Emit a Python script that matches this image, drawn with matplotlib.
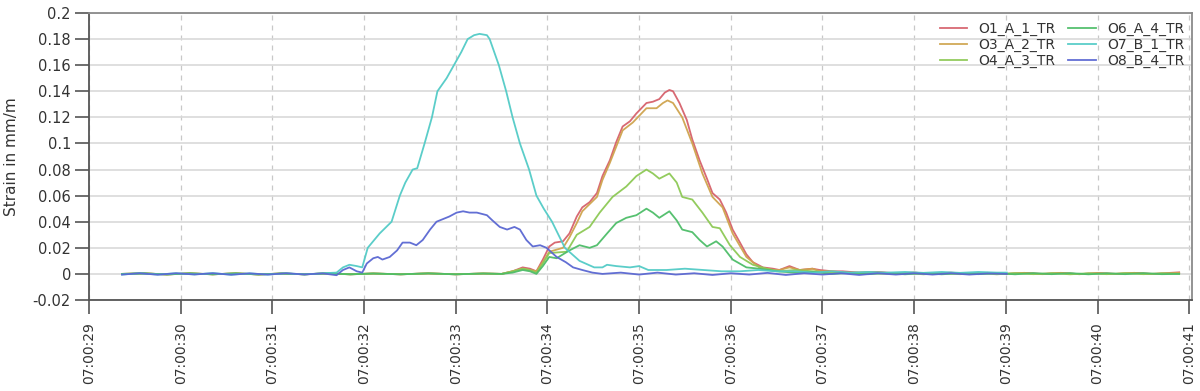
import matplotlib
matplotlib.use("Agg")
import matplotlib.pyplot as plt

# ---------------- data (time in seconds after 07:00:00, strain in mm/m) ----------------
o1_t = [29.36, 29.6, 29.85, 30.1, 30.35, 30.6, 30.85, 31.1, 31.35, 31.6, 31.85, 32.1, 32.4, 32.7, 33.0, 33.3,
        33.5, 33.62, 33.73, 33.81, 33.88, 33.95, 34.02, 34.08, 34.17, 34.24, 34.32, 34.38, 34.46, 34.54, 34.60,
        34.68, 34.75, 34.82, 34.90, 34.97, 35.08, 35.15, 35.22, 35.28, 35.33, 35.37, 35.44, 35.52, 35.58, 35.66,
        35.74, 35.80, 35.88, 35.95, 36.02, 36.10, 36.17, 36.24, 36.35, 36.46, 36.53, 36.64, 36.75, 36.89, 36.97,
        37.11, 37.22, 37.4, 37.6, 37.8, 38.0, 38.2, 38.4, 38.6, 38.8, 39.0, 39.2, 39.4, 39.6, 39.8, 40.0, 40.2,
        40.4, 40.6, 40.89]
o1_v = [0.0, 0.0004, -0.0004, 0.0004, -0.0003, 0.0004, -0.0004, 0.0003, -0.0003, 0.0004, -0.0003, 0.0003,
        -0.0003, 0.0004, -0.0003, 0.0003, 0.0, 0.002, 0.005, 0.004, 0.002, 0.011, 0.021, 0.024, 0.025, 0.031,
        0.044, 0.051, 0.055, 0.062, 0.075, 0.087, 0.101, 0.113, 0.117, 0.123, 0.131, 0.132, 0.134, 0.139,
        0.141, 0.140, 0.131, 0.118, 0.103, 0.087, 0.073, 0.062, 0.057, 0.047, 0.034, 0.024, 0.015, 0.009,
        0.005, 0.004, 0.003, 0.006, 0.003, 0.004, 0.003, 0.002, 0.002, 0.001, 0.0015, 0.0005, 0.001, 0.0,
        0.001, 0.0, 0.0008, 0.0, 0.0008, 0.0, 0.0008, -0.0002, 0.0007, 0.0, 0.0008, 0.0, 0.0012]

o3_t = [29.36, 29.6, 29.85, 30.1, 30.35, 30.6, 30.85, 31.1, 31.35, 31.6, 31.85, 32.1, 32.4, 32.7, 33.0, 33.3,
        33.5, 33.62, 33.73, 33.81, 33.88, 33.95, 34.02, 34.17, 34.24, 34.32, 34.38, 34.54, 34.60, 34.68, 34.82,
        34.93, 35.08, 35.19, 35.26, 35.31, 35.37, 35.47, 35.58, 35.69, 35.80, 35.91, 36.02, 36.17, 36.31, 36.46,
        36.53, 36.64, 36.75, 36.89, 36.97, 37.11, 37.22, 37.4, 37.6, 37.8, 38.0, 38.2, 38.4, 38.6, 38.8, 39.0,
        39.2, 39.4, 39.6, 39.8, 40.0, 40.2, 40.4, 40.6, 40.89]
o3_v = [0.0, 0.0004, -0.0004, 0.0004, -0.0003, 0.0004, -0.0004, 0.0003, -0.0003, 0.0004, -0.0003, 0.0003,
        -0.0003, 0.0004, -0.0003, 0.0003, 0.0, 0.002, 0.004, 0.003, 0.002, 0.009, 0.017, 0.020, 0.028, 0.039,
        0.048, 0.059, 0.072, 0.085, 0.110, 0.116, 0.127, 0.127, 0.131, 0.133, 0.131, 0.120, 0.100, 0.077,
        0.059, 0.051, 0.031, 0.013, 0.005, 0.003, 0.003, 0.005, 0.003, 0.004, 0.002, 0.002, 0.001, 0.001,
        0.0012, 0.0003, 0.001, 0.0, 0.0008, -0.0002, 0.0008, 0.0, 0.0008, -0.0002, 0.0008, -0.0002, 0.0006,
        0.0, 0.0008, -0.0001, 0.0008]

o4_t = [29.36, 29.6, 29.85, 30.1, 30.35, 30.6, 30.85, 31.1, 31.35, 31.6, 31.85, 32.1, 32.4, 32.7, 33.0, 33.3,
        33.5, 33.62, 33.73, 33.81, 33.88, 33.95, 34.02, 34.21, 34.32, 34.46, 34.57, 34.71, 34.86, 34.97, 35.08,
        35.15, 35.22, 35.33, 35.41, 35.47, 35.58, 35.69, 35.80, 35.88, 35.99, 36.10, 36.24, 36.39, 36.53, 36.7,
        36.9, 37.1, 37.3, 37.5, 37.7, 37.9, 38.1, 38.3, 38.5, 38.7, 38.9, 39.1, 39.3, 39.5, 39.7, 39.9, 40.1,
        40.3, 40.5, 40.7, 40.89]
o4_v = [0.0, 0.0004, -0.0004, 0.0004, -0.0003, 0.0004, -0.0004, 0.0003, -0.0003, 0.0004, -0.0003, 0.0003,
        -0.0003, 0.0004, -0.0003, 0.0003, 0.0, 0.002, 0.004, 0.003, 0.001, 0.008, 0.016, 0.017, 0.030, 0.036,
        0.047, 0.059, 0.067, 0.075, 0.080, 0.077, 0.073, 0.077, 0.070, 0.059, 0.057, 0.047, 0.036, 0.035,
        0.022, 0.013, 0.007, 0.004, 0.002, 0.003, 0.002, 0.001, 0.0005, 0.001, 0.0, 0.0008, -0.0003, 0.0006,
        -0.0002, 0.0007, -0.0003, 0.0006, -0.0002, 0.0006, -0.0003, 0.0005, -0.0002, 0.0006, -0.0002, 0.0005,
        0.0]

o6_t = [29.36, 29.6, 29.85, 30.1, 30.35, 30.6, 30.85, 31.1, 31.35, 31.6, 31.85, 32.1, 32.4, 32.7, 33.0, 33.3,
        33.5, 33.62, 33.73, 33.81, 33.88, 33.95, 34.02, 34.10, 34.24, 34.35, 34.46, 34.54, 34.65, 34.75, 34.86,
        34.97, 35.08, 35.15, 35.22, 35.33, 35.41, 35.47, 35.58, 35.66, 35.74, 35.84, 35.91, 36.02, 36.17, 36.31,
        36.5, 36.7, 36.9, 37.1, 37.3, 37.5, 37.7, 37.9, 38.1, 38.3, 38.5, 38.7, 38.9, 39.1, 39.3, 39.5, 39.7,
        39.9, 40.1, 40.3, 40.5, 40.7, 40.89]
o6_v = [0.0, 0.0004, -0.0004, 0.0004, -0.0003, 0.0004, -0.0004, 0.0003, -0.0003, 0.0004, -0.0003, 0.0003,
        -0.0003, 0.0004, -0.0003, 0.0003, 0.0, 0.001, 0.003, 0.002, 0.0, 0.006, 0.013, 0.012, 0.018, 0.022,
        0.020, 0.022, 0.031, 0.039, 0.043, 0.045, 0.050, 0.047, 0.043, 0.048, 0.041, 0.034, 0.032, 0.026,
        0.021, 0.025, 0.021, 0.011, 0.005, 0.004, 0.002, 0.001, 0.0015, 0.0, 0.0008, -0.0002, 0.0007, -0.0003,
        0.0006, -0.0003, 0.0006, -0.0002, 0.0006, -0.0003, 0.0006, -0.0002, 0.0006, -0.0003, 0.0005, -0.0002,
        0.0006, -0.0002, 0.0]

o7_t = [29.36, 29.55, 29.75, 29.95, 30.15, 30.35, 30.55, 30.75, 30.95, 31.15, 31.35, 31.55, 31.70, 31.77,
        31.84, 31.92, 31.98, 32.04, 32.17, 32.30, 32.39, 32.45, 32.53, 32.58, 32.66, 32.74, 32.80, 32.90,
        32.98, 33.06, 33.13, 33.20, 33.26, 33.34, 33.37, 33.47, 33.55, 33.62, 33.70, 33.80, 33.88, 33.96,
        34.05, 34.19, 34.35, 34.51, 34.60, 34.65, 34.75, 34.90, 35.00, 35.10, 35.30, 35.50, 35.70, 35.90,
        36.1, 36.3, 36.5, 36.7, 36.9, 37.1, 37.3, 37.5, 37.7, 37.9, 38.1, 38.3, 38.5, 38.7, 38.9, 39.01]
o7_v = [-0.0005, 0.0005, -0.0005, 0.0005, -0.0004, 0.0006, -0.0006, 0.0004, -0.0005, 0.0005, -0.0004,
        0.0005, 0.001, 0.005, 0.007, 0.006, 0.005, 0.020, 0.031, 0.040, 0.060, 0.070, 0.080, 0.081, 0.100,
        0.120, 0.140, 0.150, 0.160, 0.170, 0.180, 0.183, 0.184, 0.183, 0.180, 0.160, 0.140, 0.120, 0.100,
        0.080, 0.060, 0.050, 0.040, 0.020, 0.010, 0.005, 0.005, 0.007, 0.006, 0.005, 0.006, 0.003, 0.003,
        0.004, 0.003, 0.002, 0.002, 0.003, 0.002, 0.002, 0.001, 0.002, 0.001, 0.0015, 0.001, 0.0015, 0.0008,
        0.0015, 0.0008, 0.0015, 0.001, 0.001]

o8_t = [29.36, 29.55, 29.75, 29.95, 30.15, 30.35, 30.55, 30.75, 30.95, 31.15, 31.35, 31.55, 31.70, 31.77,
        31.84, 31.92, 31.98, 32.03, 32.10, 32.15, 32.20, 32.28, 32.36, 32.42, 32.50, 32.57, 32.64, 32.72,
        32.79, 32.86, 32.93, 33.01, 33.08, 33.15, 33.23, 33.34, 33.40, 33.48, 33.56, 33.64, 33.70, 33.77,
        33.84, 33.92, 33.99, 34.10, 34.20, 34.28, 34.38, 34.49, 34.6, 34.8, 35.0, 35.2, 35.4, 35.6, 35.8,
        36.0, 36.2, 36.4, 36.6, 36.8, 37.0, 37.2, 37.4, 37.6, 37.8, 38.0, 38.2, 38.4, 38.6, 38.8, 39.01]
o8_v = [-0.0005, 0.0005, -0.0006, 0.0005, -0.0004, 0.0005, -0.0006, 0.0004, -0.0005, 0.0005, -0.0004,
        0.0004, -0.001, 0.003, 0.005, 0.002, 0.001, 0.008, 0.012, 0.013, 0.011, 0.013, 0.018, 0.024, 0.024,
        0.022, 0.026, 0.034, 0.040, 0.042, 0.044, 0.047, 0.048, 0.047, 0.047, 0.045, 0.041, 0.036, 0.034,
        0.036, 0.034, 0.026, 0.021, 0.022, 0.020, 0.013, 0.009, 0.005, 0.003, 0.001, 0.0, 0.001, -0.0005,
        0.001, -0.0005, 0.0005, -0.0008, 0.0005, -0.0005, 0.0008, -0.0008, 0.0005, -0.0005, 0.0005, -0.0008,
        0.0005, -0.0005, 0.0005, -0.0005, 0.0005, -0.0005, 0.0003, 0.0]

series_names = ["O1_A_1_TR", "O3_A_2_TR", "O4_A_3_TR", "O6_A_4_TR", "O7_B_1_TR", "O8_B_4_TR"]
series_colors = ["#D6616B", "#CFA44E", "#8DC955", "#4DBD68", "#52CBC6", "#5A67D2"]

xtick_values = list(range(29, 42))
xtick_labels = ["07:00:%02d" % s for s in xtick_values]
ytick_values = [-0.02, 0.0, 0.02, 0.04, 0.06, 0.08, 0.1, 0.12, 0.14, 0.16, 0.18, 0.2]
ytick_labels = ["-0.02", "0", "0.02", "0.04", "0.06", "0.08", "0.1", "0.12", "0.14", "0.16", "0.18", "0.2"]

# ---------------- plotting ----------------
plt.rcParams["font.family"] = ["DejaVu Sans"]
fig = plt.figure(figsize=(12, 3.91), dpi=100)
ax = fig.add_axes([89 / 1200, 91 / 391, (1192 - 89) / 1200, (300 - 13) / 391])

all_t = [o1_t, o3_t, o4_t, o6_t, o7_t, o8_t]
all_v = [o1_v, o3_v, o4_v, o6_v, o7_v, o8_v]
for t, v, name, col in zip(all_t, all_v, series_names, series_colors):
    ax.plot(t, v, color=col, lw=1.3, label=name, alpha=0.95)

ax.set_xlim(29, 41.03)
ax.set_ylim(-0.02, 0.2)
ax.set_xticks(xtick_values)
ax.set_xticklabels(xtick_labels, rotation=90)
ax.set_yticks(ytick_values)
ax.set_yticklabels(ytick_labels)

ax.set_axisbelow(True)
ax.yaxis.grid(True, color="#d9d9d9", lw=1.2, ls="-")
ax.xaxis.grid(True, color="#c8c8c8", lw=0.9, ls=(0, (4, 4)))

for side in ["left", "bottom"]:
    ax.spines[side].set_color("#555555")
    ax.spines[side].set_linewidth(1.3)
for side in ["top", "right"]:
    ax.spines[side].set_color("#8a8a8a")
    ax.spines[side].set_linewidth(1.3)

ax.tick_params(axis="both", length=10, width=1.2, color="#555555", labelcolor="#333333")
ax.tick_params(axis="x", pad=6, labelsize=10)
ax.tick_params(axis="y", pad=3, labelsize=10.5)

ax.set_ylabel("Strain in mm/m", fontsize=11, color="#333333", labelpad=10)

leg = ax.legend(ncol=2, loc="upper right", bbox_to_anchor=(1.002, 1.003), frameon=False, fontsize=10,
                handlelength=2.0, handletextpad=0.8, columnspacing=0.9, labelspacing=0.15,
                borderaxespad=0.3)
for txt in leg.get_texts():
    txt.set_color("#333333")

fig.savefig("out.png", dpi=100)
